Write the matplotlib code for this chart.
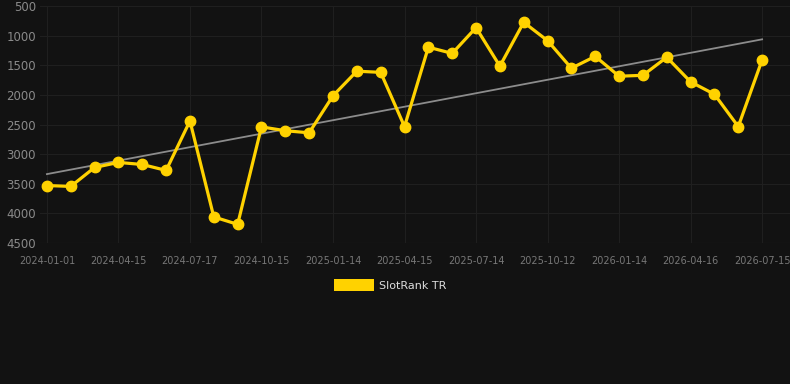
import numpy as np
import matplotlib
matplotlib.use('Agg')
import matplotlib.pyplot as plt
import matplotlib.patches as mpatches

# fechas de cada punto (solo se rotulan una de cada tres)
fechas = ['2024-01-01', '2024-02-05', '2024-03-11', '2024-04-15', '2024-05-20', '2024-06-12',
          '2024-07-17', '2024-08-16', '2024-09-15', '2024-10-15', '2024-11-14', '2024-12-14',
          '2025-01-14', '2025-02-13', '2025-03-15', '2025-04-15', '2025-05-14', '2025-06-13',
          '2025-07-14', '2025-08-13', '2025-09-12', '2025-10-12', '2025-11-13', '2025-12-14',
          '2026-01-14', '2026-02-13', '2026-03-16', '2026-04-16', '2026-05-16', '2026-06-15',
          '2026-07-15']
ranking = [3530, 3545, 3225, 3140, 3175, 3275, 2440, 4060, 4185, 2540, 2605, 2640,
           2015, 1600, 1620, 2535, 1195, 1300, 865, 1515, 775, 1085, 1550, 1350,
           1685, 1670, 1365, 1780, 1990, 2535, 1410]
serie = 'SlotRank TR'

fondo = '#121212'
amarillo = '#ffd200'
gris_txt = '#8a8a8a'

x = np.arange(len(ranking))
y = np.array(ranking)

fig = plt.figure(figsize=(7.9, 3.84), dpi=100, facecolor=fondo)
ax = fig.add_axes([40/790, 1 - 243/384, 750/790, 237/384])
ax.set_facecolor(fondo)

# linea de tendencia
a, b = np.polyfit(x, y, 1)
ax.plot(x, a*x + b, '-', color='#8c8c8c', linewidth=1.3, zorder=2)

ax.plot(x, y, '-o', color=amarillo, linewidth=2.3, markersize=7.5, zorder=3)

ax.set_ylim(4500, 500)
ax.set_xlim(-0.29, 31.17)
ax.set_yticks(np.arange(500, 4501, 500))
ax.set_xticks(x[::3])
ax.set_xticklabels(fechas[::3])

ax.grid(True, color='#1f1f1f', linewidth=0.8)
ax.set_axisbelow(True)
for s in ax.spines.values():
    s.set_visible(False)
ax.tick_params(axis='y', length=0, pad=3, labelsize=8.5, labelcolor=gris_txt)
ax.tick_params(axis='x', length=0, pad=9, labelsize=7, labelcolor='#777777')
ax.axhline(4500, color='#2c2c2c', linewidth=0.8, zorder=1)

rec = mpatches.Rectangle((0, 0), 1, 1, fc=amarillo)
fig.legend([rec], [serie], loc='center', bbox_to_anchor=(390/790, 1 - 285/384),
           frameon=False, handlelength=3.6, handleheight=1.25, fontsize=8,
           labelcolor='#dddddd', handletextpad=0.5)

fig.savefig('out.png', dpi=100, facecolor=fondo)
